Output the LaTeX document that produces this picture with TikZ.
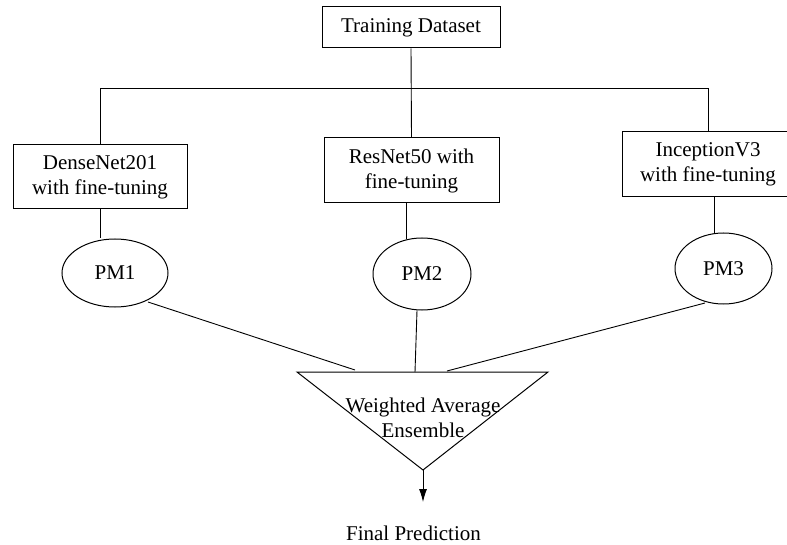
\documentclass[tikz,border=0pt]{standalone}
\usepackage{fontspec}
\setmainfont{Liberation Serif}
\usetikzlibrary{arrows.meta,shapes.geometric}
\begin{document}
\begin{tikzpicture}[x=1pt,y=-1pt,line width=1pt,
  every node/.style={font=\fontsize{21}{25}\selectfont},
  box/.style={draw,rectangle,inner sep=0pt,align=center},
  pm/.style={draw,ellipse,inner sep=0pt},
  conn/.style={draw,line width=0.9pt}]
\clip (0,0) rectangle (787,545);
\useasboundingbox (0,0) rectangle (787,545);
\node[box,minimum width=178pt,minimum height=41pt] (td) at (411,27.5) {Training Dataset};
\node[box,minimum width=174pt,minimum height=64pt] (dn) at (100,177) {DenseNet201\\with fine-tuning};
\node[box,minimum width=175pt,minimum height=65pt] (rn) at (411.5,170.5) {ResNet50 with\\fine-tuning};
\node[box,minimum width=172pt,minimum height=65pt] (inc) at (708,164.5) {InceptionV3\\with fine-tuning};
\node[pm,minimum width=106pt,minimum height=68pt] (pm1) at (115,273) {PM1};
\node[pm,minimum width=98pt,minimum height=72pt] (pm2) at (422,274) {PM2};
\node[pm,minimum width=97pt,minimum height=71pt] (pm3) at (723.5,268.5) {PM3};
\coordinate (bus) at (0,88);
\coordinate (tl) at (297,372);
\coordinate (tr) at (548,372);
\coordinate (ap) at (423,470);
\coordinate (in1) at (355,370);
\coordinate (in2) at (415,372);
\coordinate (in3) at (447,371);
\coordinate (out) at (423,502);
\draw (tl) -- (tr) -- (ap) -- cycle;
\node (ens) at (423,418) [align=center] {Weighted Average\\Ensemble};
\node (fp) at (413.5,533) {Final Prediction};
\draw[conn] (td.south) -- (rn.north);
\draw[conn] (dn.north) |- (inc.north |- bus) -- (inc.north);
\draw[conn] (dn.south) -- (dn.south |- pm1.north);
\draw[conn] ([xshift=-5.5pt]rn.south) -- ++(0,36);
\draw[conn] ([xshift=6pt]inc.south) -- ++(0,36);
\draw[conn] (148,302) -- (in1);
\draw[conn] ([xshift=-5pt]pm2.south) -- (in2);
\draw[conn] (705,303) -- (in3);
\draw[conn,-{Latex[length=13pt,width=8pt]}] (ap) -- (out);
\end{tikzpicture}
\end{document}
